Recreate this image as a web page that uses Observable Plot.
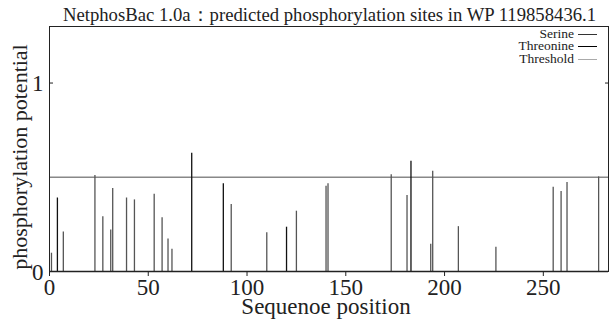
<!DOCTYPE html>
<html><head><meta charset="utf-8">
<script src="https://cdn.jsdelivr.net/npm/d3@7"></script>
<script src="https://cdn.jsdelivr.net/npm/@observablehq/plot@0.6"></script>
<style>
body{margin:0;background:#fff;}
#wrap{position:relative;width:610px;height:324px;font-family:"Liberation Serif","DejaVu Serif",serif;color:#222;}
#title{position:absolute;left:49px;width:561px;top:6px;text-align:center;font-size:18.7px;line-height:18.7px;white-space:nowrap;}
.lg{position:absolute;font-size:13.5px;line-height:12px;white-space:nowrap;}
.lt{position:absolute;right:36px;text-align:right;}
.ll{position:absolute;left:578px;width:19px;height:0;}
</style>
</head><body>
<div id="wrap">
<div id="chart"></div>
<div id="title">NetphosBac 1.0a：predicted phosphorylation sites in WP 119858436.1</div>
<div id="legend"></div>
</div>
<script>
// Data
const positions = [1, 4, 7, 23, 27, 31, 32, 39, 43, 53, 57, 60, 62, 72, 88, 92, 110, 120, 125, 140, 141, 173, 181, 183, 193, 194, 207, 226, 255, 259, 262, 278];
const potentials = [0.097, 0.39, 0.21, 0.51, 0.29, 0.22, 0.44, 0.39, 0.38, 0.41, 0.285, 0.173, 0.118, 0.627, 0.465, 0.355, 0.205, 0.235, 0.32, 0.452, 0.465, 0.513, 0.403, 0.585, 0.145, 0.532, 0.238, 0.129, 0.447, 0.424, 0.472, 0.502];
const residues = ["S","T","S","S","S","S","S","S","S","S","S","S","S","T","T","S","S","T","S","S","S","S","S","T","S","S","S","S","S","S","S","S"];
const threshold = 0.5;
const xTicks = [0, 50, 100, 150, 200, 250];
const yTicks = [0, 1];
const legendNames = ["Serine", "Threonine", "Threshold"];
const legendColors = ["#333", "#000", "#aaa"];
const residueColor = {S: "#555", T: "#111"};

const sites = positions.map((p, i) => ({pos: p, value: potentials[i], res: residues[i]}));

const font = "Liberation Serif, DejaVu Serif, serif";
const chart = Plot.plot({
  width: 610, height: 324,
  marginLeft: 49, marginRight: 2, marginTop: 26, marginBottom: 53,
  x: {domain: [0, 283]},
  y: {domain: [0, 1.3]},
  style: {fontFamily: font, color: "#222", background: "#fff"},
  marks: [
    Plot.ruleY([threshold], {stroke: "#888", strokeWidth: 1.5}),
    Plot.ruleX(sites, {x: "pos", y1: 0, y2: "value", stroke: d => residueColor[d.res], strokeWidth: 1.3}),
    Plot.frame({stroke: "#222", strokeWidth: 1}),
    Plot.ruleY([0], {stroke: "#222", strokeWidth: 1.6}),
    Plot.axisX({ticks: xTicks, tickSize: 5, tickPadding: 2, fontSize: 23, label: null, stroke: "#222", tickFormat: d => String(d)}),
    Plot.axisY({ticks: yTicks, tickSize: 0, tickPadding: 6, fontSize: 23, label: null, dy: 1, tickFormat: d => String(d)}),
    Plot.axisY({ticks: yTicks, tickSize: 4, dx: 4, tickFormat: () => "", label: null, stroke: "#222"}),
    Plot.axisY({anchor: "right", ticks: [1], tickSize: 4, dx: -4, tickFormat: () => "", label: null, stroke: "#222"}),
    Plot.text(["Sequenoe position"], {frameAnchor: "bottom", textAnchor: "middle", lineAnchor: "middle", dy: 35, dx: -3, fontSize: 23, fill: "#222"}),
    Plot.text(["phosphorylation potential"], {frameAnchor: "left", textAnchor: "middle", lineAnchor: "middle", rotate: -90, dx: -30, dy: 8, fontSize: 22, fill: "#222"})
  ]
});
document.getElementById("chart").appendChild(chart);

const lg = document.getElementById("legend");
const baselines = [37.5, 50, 62.5];
legendNames.forEach((name, i) => {
  const t = document.createElement("div");
  t.className = "lg lt";
  t.style.top = (baselines[i] - 10) + "px";
  t.textContent = name;
  lg.appendChild(t);
  const l = document.createElement("div");
  l.className = "lg ll";
  l.style.top = (baselines[i] - 4) + "px";
  l.style.borderTop = "1.3px solid " + legendColors[i];
  lg.appendChild(l);
});
</script>
</body></html>
